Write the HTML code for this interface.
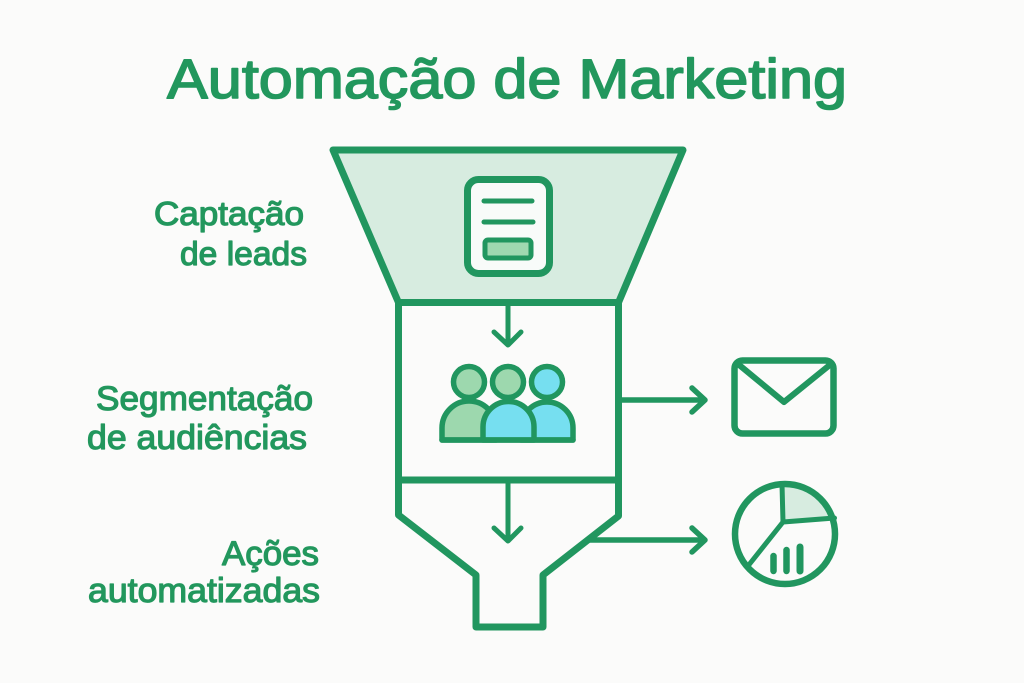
<!DOCTYPE html>
<html>
<head>
<meta charset="utf-8">
<style>
  html, body { margin: 0; padding: 0; background: #fbfbfa; }
  body { width: 1024px; height: 683px; overflow: hidden; }
  svg { display: block; }
  text { font-family: "Liberation Sans", "DejaVu Sans", sans-serif; font-weight: normal; fill: #22975d; stroke: #22975d; stroke-linejoin: round; }
</style>
</head>
<body>
<svg width="1024" height="683" viewBox="0 0 1024 683" xmlns="http://www.w3.org/2000/svg">
  <rect x="0" y="0" width="1024" height="683" fill="#fbfbfa"/>

  <!-- Title -->
  <text x="167" y="98" font-size="56" stroke-width="1.6" textLength="680" lengthAdjust="spacingAndGlyphs">Automação de Marketing</text>

  <!-- Labels -->
  <text x="154" y="225" font-size="33" stroke-width="1.2" textLength="150" lengthAdjust="spacingAndGlyphs">Captação</text>
  <text x="180" y="265" font-size="33" stroke-width="1.2" textLength="127" lengthAdjust="spacingAndGlyphs">de leads</text>

  <text x="96" y="410" font-size="34" stroke-width="1.2" textLength="217" lengthAdjust="spacingAndGlyphs">Segmentação</text>
  <text x="87" y="449" font-size="34" stroke-width="1.2" textLength="220" lengthAdjust="spacingAndGlyphs">de audiências</text>

  <text x="222" y="565" font-size="34" stroke-width="1.2" textLength="97" lengthAdjust="spacingAndGlyphs">Ações</text>
  <text x="88" y="602" font-size="34" stroke-width="1.2" textLength="232" lengthAdjust="spacingAndGlyphs">automatizadas</text>

  <g stroke="#21965f" stroke-linejoin="round" stroke-linecap="round" fill="none">
    <!-- Top trapezoid -->
    <path d="M333,150 L683,150 L618.5,302.5 L398.5,302.5 Z" fill="#d7ece0" stroke-width="7"/>

    <!-- Body walls -->
    <path d="M398.5,302.5 V515 L476,575 V627 H543 V575 L618.5,516 V302.5" stroke-width="7"/>
    <!-- Middle divider -->
    <line x1="398.5" y1="480" x2="618.5" y2="480" stroke-width="7"/>

    <!-- Document icon -->
    <rect x="467.5" y="179.5" width="82" height="94" rx="11" fill="#f8fbf9" stroke-width="7"/>
    <line x1="484" y1="201" x2="532" y2="201" stroke-width="5"/>
    <line x1="484" y1="222" x2="533" y2="222" stroke-width="5"/>
    <rect x="485" y="240" width="46" height="18" rx="3" fill="#9fd8b0" stroke-width="5"/>

    <!-- Arrow 1 -->
    <line x1="508" y1="304" x2="508" y2="344" stroke-width="5"/>
    <polyline points="494,332 508,345 521,332" stroke-width="5"/>

    <!-- Arrow 2 -->
    <line x1="508" y1="482" x2="508" y2="539" stroke-width="5"/>
    <polyline points="494,528 508,541 521,528" stroke-width="5"/>

    <!-- People icon -->
    <path d="M442,440 V428 A26,26 0 0 1 496,428 V440 Z" fill="#9dd8ae" stroke-width="5.5"/>
    <path d="M521,440 V428 A26,26 0 0 1 573,428 V440 Z" fill="#76dff0" stroke-width="5.5"/>
    <path d="M483,440 V427 A25.5,25.5 0 0 1 534,427 V440 Z" fill="#76dff0" stroke-width="5.5"/>
    <line x1="442" y1="440" x2="573" y2="440" stroke-width="5.5"/>
    <circle cx="469" cy="382" r="15.5" fill="#9dd8ae" stroke-width="5.5"/>
    <circle cx="508" cy="382" r="15.5" fill="#9dd8ae" stroke-width="5.5"/>
    <circle cx="547" cy="382" r="15.5" fill="#76dff0" stroke-width="5.5"/>

    <!-- Right arrow 1 (to email) -->
    <line x1="620" y1="400" x2="704" y2="400" stroke-width="5.5"/>
    <polyline points="692,388 705,400 692,412" stroke-width="5.5"/>

    <!-- Right arrow 2 (to chart) -->
    <line x1="590" y1="540" x2="704" y2="540" stroke-width="5.5"/>
    <polyline points="692,528 705,540 692,552" stroke-width="5.5"/>

    <!-- Envelope -->
    <rect x="734.5" y="360.5" width="99" height="73" rx="8" fill="#fbfbfa" stroke-width="6.5"/>
    <polyline points="738,364 784,402 831,364" stroke-width="6"/>

    <!-- Pie chart -->
    <path d="M783,522 L782,484 A50,50 0 0 1 834.5,518 Z" fill="#d7ece0" stroke="none"/>
    <circle cx="785" cy="534" r="50" stroke-width="6.5"/>
    <polyline points="782,484 783,522 834.5,518" stroke-width="5"/>
    <line x1="783" y1="522" x2="748" y2="566" stroke-width="5"/>
    <line x1="773.5" y1="556" x2="773.5" y2="571" stroke-width="6.5" stroke-linecap="round"/>
    <line x1="786.5" y1="550" x2="786.5" y2="571" stroke-width="6.5" stroke-linecap="round"/>
    <line x1="800" y1="547" x2="800" y2="571" stroke-width="7" stroke-linecap="round"/>
  </g>
</svg>
</body>
</html>
